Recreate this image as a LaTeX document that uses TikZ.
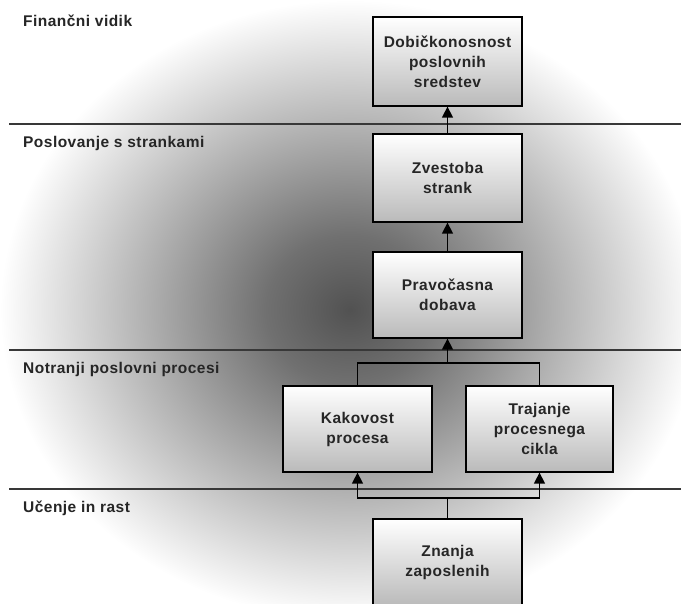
\documentclass[tikz,border=0pt]{standalone}
\usepackage{fontspec}
\setmainfont{Liberation Sans}[LetterSpace=3]
\usetikzlibrary{arrows.meta}
\pgfdeclareradialshading{bgshade}{\pgfpoint{0bp}{0bp}}{color(0bp)=(black!68); color(6bp)=(black!56); color(25bp)=(white); color(50bp)=(white)}
\tikzset{
  box/.style={draw=black, line width=1.3pt, top color=white, bottom color=black!27,
    minimum width=149pt, minimum height=88pt, align=center, inner sep=2pt,
    font=\bfseries\fontsize{15.5}{20}\selectfont, text=black!85},
  lbl/.style={anchor=west, inner sep=0pt, font=\bfseries\fontsize{15.5}{20}\selectfont, text=black!85},
  sep/.style={draw=black!78, line width=1.8pt},
  con/.style={draw=black, line width=1.4pt},
  arr/.style={con, -{Triangle[width=11pt,length=11pt]}}
}
\begin{document}
\begin{tikzpicture}[x=1pt,y=-1pt]
\useasboundingbox (0,0) rectangle (681,604);
\shade[shading=bgshade] (0,0) rectangle (700,620);
% separators
\coordinate (s1a) at (9,124); \coordinate (s1b) at (681,124);
\coordinate (s2a) at (9,350); \coordinate (s2b) at (681,350);
\coordinate (s3a) at (9,489); \coordinate (s3b) at (681,489);
\draw[sep] (s1a) -- (s1b);
\draw[sep] (s2a) -- (s2b);
\draw[sep] (s3a) -- (s3b);
% labels
\node[lbl] (l1) at (23,21) {Finančni vidik};
\node[lbl] (l2) at (23,143) {Poslovanje s strankami};
\node[lbl] (l3) at (23,369) {Notranji poslovni procesi};
\node[lbl] (l4) at (23,508) {Učenje in rast};
% boxes
\node[box, minimum height=89pt] (b1) at (447.5,61.5) {Dobičkonosnost\\poslovnih\\sredstev};
\node[box] (b2) at (447.5,178) {Zvestoba\\strank};
\node[box, minimum height=86pt] (b3) at (447.5,295) {Pravočasna\\dobava};
\node[box, minimum height=86pt] (b4) at (357.5,429) {Kakovost\\procesa};
\node[box, minimum width=147pt, minimum height=86pt] (b5) at (539.5,429) {Trajanje\\procesnega\\cikla};
\node[box, minimum height=86pt] (b6) at (447.5,562) {Znanja\\zaposlenih};
% connectors
\coordinate (j1) at (447.5,363);
\coordinate (j2) at (447.5,498);
\draw[arr] (b2.north) -- (b1.south);
\draw[arr] (b3.north) -- (b2.south);
\draw[con] (b4.north) |- (j1) -| (b5.north);
\draw[arr] (j1) -- (b3.south);
\draw[con] (b6.north) -- (j2);
\draw[arr] (j2) -| (b4.south);
\draw[arr] (j2) -| (b5.south);
\end{tikzpicture}
\end{document}
